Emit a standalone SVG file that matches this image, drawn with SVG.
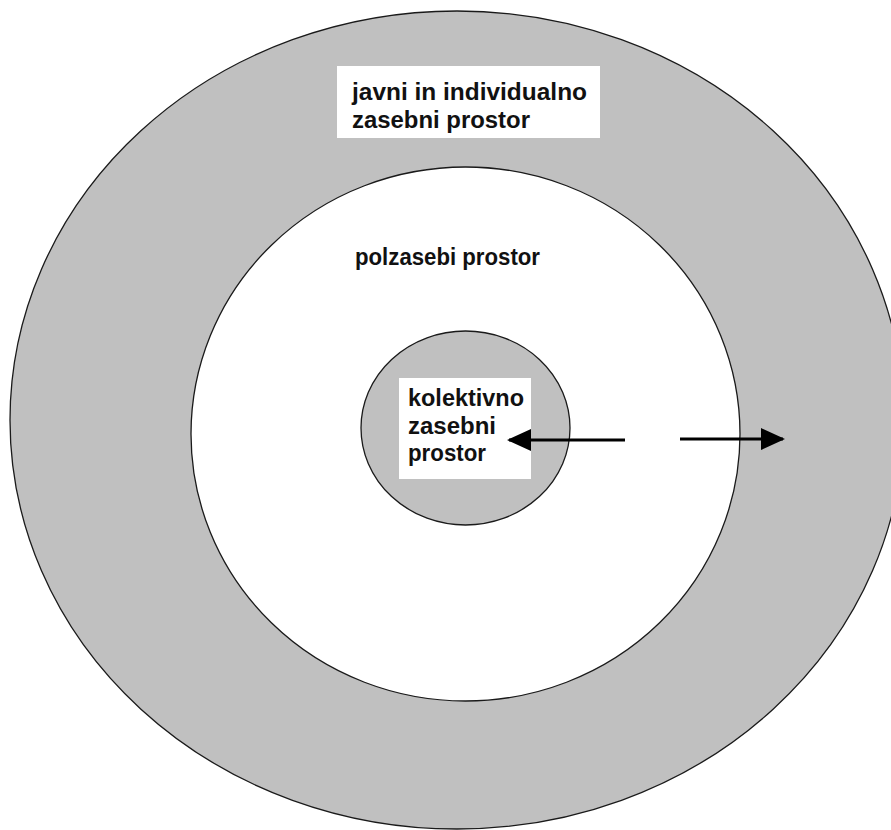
<svg xmlns="http://www.w3.org/2000/svg" width="891" height="830" viewBox="0 0 891 830">
  <style>
    .ring { stroke: #1a1a1a; stroke-width: 1.3; }
    .grey { fill: #c0c0c0; }
    .white { fill: #ffffff; }
    .label { font-family: "Liberation Sans", Arial, sans-serif; font-weight: bold; font-size: 23px; fill: #111111; }
    .arrow { stroke: #000000; stroke-width: 3; fill: none; }
  </style>
  <defs>
    <marker id="head" viewBox="0 0 24 22" refX="22" refY="11" markerWidth="24" markerHeight="22" markerUnits="userSpaceOnUse" orient="auto">
      <path d="M0,0 L24,11 L0,22 Z" fill="#000000"/>
    </marker>
  </defs>
  <rect width="891" height="830" fill="#ffffff"/>

  <g id="outer-zone">
    <ellipse class="ring grey" cx="457" cy="420" rx="447" ry="409"/>
    <rect class="white" x="337" y="66" width="263" height="72"/>
    <text class="label" x="352" y="100" textLength="235" lengthAdjust="spacingAndGlyphs">javni in individualno</text>
    <text class="label" x="352" y="128" textLength="178" lengthAdjust="spacingAndGlyphs">zasebni prostor</text>
  </g>

  <g id="middle-zone">
    <ellipse class="ring white" cx="465.5" cy="434" rx="274.5" ry="267"/>
    <text class="label" x="355" y="265" textLength="185" lengthAdjust="spacingAndGlyphs">polzasebi prostor</text>
  </g>

  <g id="inner-zone">
    <ellipse class="ring grey" cx="465.5" cy="428" rx="104.5" ry="97"/>
    <rect class="white" x="399" y="378" width="132" height="101"/>
    <text class="label" x="408" y="406" textLength="116" lengthAdjust="spacingAndGlyphs">kolektivno</text>
    <text class="label" x="408" y="434" textLength="88" lengthAdjust="spacingAndGlyphs">zasebni</text>
    <text class="label" x="408" y="461" textLength="78" lengthAdjust="spacingAndGlyphs">prostor</text>
  </g>

  <g id="connectors">
    <line class="arrow" x1="625" y1="440" x2="509" y2="440" marker-end="url(#head)"/>
    <line class="arrow" x1="680" y1="439" x2="783" y2="439" marker-end="url(#head)"/>
  </g>
</svg>
